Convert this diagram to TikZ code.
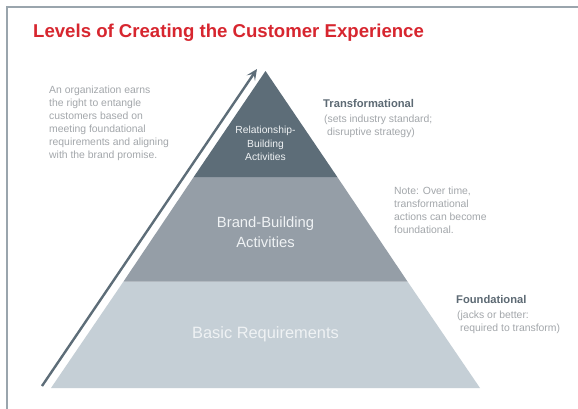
\documentclass[tikz,border=0pt]{standalone}
\usepackage{fontspec}
\setmainfont{Liberation Sans}
\usetikzlibrary{arrows.meta}
\definecolor{framegray}{HTML}{9AA5AD}
\definecolor{titlered}{HTML}{D7262F}
\definecolor{tiertop}{HTML}{5D6D78}
\definecolor{tiermid}{HTML}{959EA7}
\definecolor{tierbase}{HTML}{C5CFD6}
\definecolor{softgray}{HTML}{A3A7AB}
\definecolor{headgray}{HTML}{5D6A74}
\definecolor{tiertext}{HTML}{EFF2F4}
\tikzset{
  note/.style={anchor=north west, align=left, inner sep=0pt, text=softgray,
    font=\fontsize{10.4}{13.1}\selectfont},
  head/.style={anchor=north west, inner sep=0pt, text=headgray,
    font=\fontsize{11.2}{13}\selectfont\bfseries},
  tierlabel/.style={align=center, inner sep=0pt, text=tiertext},
}
\begin{document}
\begin{tikzpicture}[x=1pt,y=-1pt]
\useasboundingbox (0,0) rectangle (578,408);
\fill[white] (0,0) rectangle (578,408);
% frame (open at right and bottom)
\draw[framegray, line width=2pt] (7,420) -- (7,7) -- (590,7);
% title
\node[anchor=west, inner sep=0pt, text=titlered, font=\fontsize{18.6}{22}\selectfont\bfseries]
  (title) at (33,33) {Levels of Creating the Customer Experience};
% pyramid geometry
\coordinate (apex) at (265.5,71);
\coordinate (t1l) at (193.7,177); \coordinate (t1r) at (337.3,177);
\coordinate (t2l) at (123.5,281.5); \coordinate (t2r) at (407.5,281.5);
\coordinate (t3l) at (51,388); \coordinate (t3r) at (480,388);
\fill[tierbase] (t2l) -- (t2r) -- (t3r) -- (t3l) -- cycle;
\fill[tiermid] (t1l) -- (t1r) -- (t2r) -- (t2l) -- cycle;
\fill[tiertop] (apex) -- (t1r) -- (t1l) -- cycle;
% tier labels
\node[tierlabel, font=\fontsize{10.3}{13.3}\selectfont] (rel) at (265.5,143.5)
  {Relationship-\\Building\\Activities};
\node[tierlabel, font=\fontsize{14.8}{20}\selectfont] (brand) at (265.5,232)
  {Brand-Building\\Activities};
\node[tierlabel, font=\fontsize{16.4}{20}\selectfont] (basic) at (265.5,334)
  {Basic Requirements};
% arrow
\coordinate (arrS) at (42,386);
\coordinate (arrE) at (257,69);
\draw[tiertop, line width=2.4pt, -{Stealth[length=11pt,width=10pt,inset=5pt]}] (arrS) -- (arrE);
% side texts
\node[note] (earn) at (49,85.5)
  {An organization earns\\the right to entangle\\customers based on\\meeting foundational\\requirements and aligning\\with the brand promise.};
\node[head] (trans) at (323,99) {Transformational};
\node[note] (transnote) at (324,114.5) {(sets industry standard;\\\ disruptive strategy)};
\node[note] (overtime) at (394,186.5)
  {Note: Over time,\\transformational\\actions can become\\foundational.};
\node[head] (found) at (456,295) {Foundational};
\node[note] (foundnote) at (457,310.5) {(jacks or better:\\\ required to transform)};
\end{tikzpicture}
\end{document}
